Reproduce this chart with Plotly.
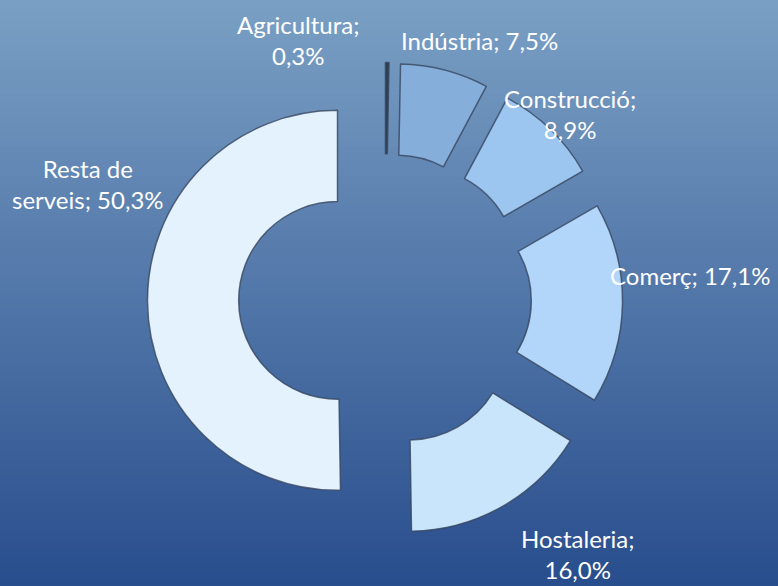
import plotly.graph_objects as go

# dades
sectors = ['Agricultura', 'Indústria', 'Construcció', 'Comerç', 'Hostaleria', 'Resta de serveis']
percent = [0.3, 7.5, 8.9, 17.1, 16.0, 50.3]
label_text = ['Agricultura;<br>0,3%', 'Indústria; 7,5%', 'Construcció;<br>8,9%',
              'Comerç; 17,1%', 'Hostaleria;<br>16,0%', 'Resta de<br>serveis; 50,3%']

colors = ['#2e3f55', '#86aedb', '#9cc6ef', '#b1d6f9', '#c9e5fb', '#e3f2fd']

W, H = 778, 586

fig = go.Figure()
fig.add_trace(go.Pie(
    labels=sectors,
    values=percent,
    hole=0.52,
    sort=False,
    direction='clockwise',
    rotation=0,
    pull=[0.25] * len(percent),
    marker=dict(colors=colors, line=dict(color='rgba(55,70,95,0.8)', width=1.5)),
    textinfo='none',
    hoverinfo='skip',
    showlegend=False,
    domain=dict(x=[147.5 / W, 622.5 / W], y=[1 - 537.5 / H, 1 - 62.5 / H]),
))

# fons amb degradat
top = (122, 159, 196)
bot = (41, 78, 141)
n = 80
shapes = []
for i in range(n):
    t = i / (n - 1)
    c = tuple(round(top[k] + (bot[k] - top[k]) * t) for k in range(3))
    shapes.append(dict(type='rect', xref='paper', yref='paper',
                       x0=0, x1=1, y0=1 - (i + 1) / n - 0.002, y1=1 - i / n,
                       fillcolor='rgb(%d,%d,%d)' % c, line=dict(width=0), layer='below'))

# posicions de les etiquetes (px)
label_pos = [(298, 40), (479, 40), (570, 114), (690, 275), (578, 554), (88, 184)]
annotations = []
for txt, (px, py) in zip(label_text, label_pos):
    annotations.append(dict(text=txt, x=px / W, y=1 - py / H, xref='paper', yref='paper',
                            showarrow=False, xanchor='center', yanchor='middle',
                            font=dict(family='Lato', size=24, color='white')))

fig.update_layout(
    width=W, height=H,
    margin=dict(l=0, r=0, t=0, b=0),
    paper_bgcolor='#4a6fa3',
    shapes=shapes,
    annotations=annotations,
)

fig.write_html("out.html", config={'displayModeBar': False},
               post_script="document.body.style.margin='0';")
